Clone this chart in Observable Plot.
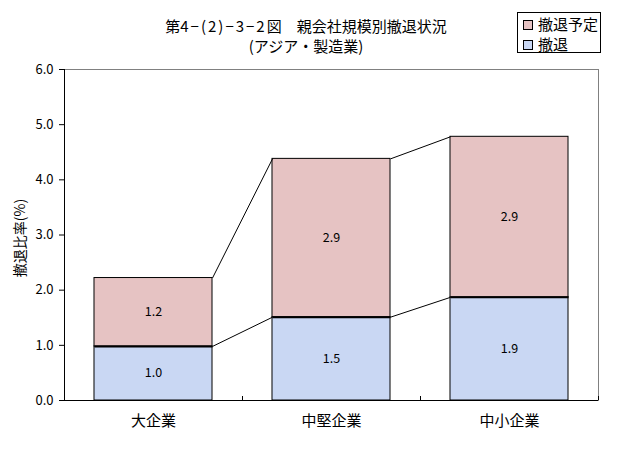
<!DOCTYPE html>
<html>
<head>
<meta charset="utf-8">
<script src="https://cdn.jsdelivr.net/npm/d3@7"></script>
<script src="https://cdn.jsdelivr.net/npm/@observablehq/plot@0.6"></script>
<style>
  body { margin: 0; background: #fff; font-family: "Noto Sans CJK JP", sans-serif; }
  #wrap { position: relative; width: 617px; }
  #head { position: relative; height: 60px; }
  #title { position: absolute; left: 0; top: 16px; width: 612px; text-align: center; font-size: 15px; line-height: 20px; color: #000; }
  #title .hw { letter-spacing: 2px; }
  #legend { position: absolute; left: 517px; top: 12px; width: 82px; height: 39px; border: 1px solid #000; font-size: 15px; }
  .li { position: absolute; left: 5px; height: 16px; line-height: 16px; white-space: nowrap; }
  .sw { display: inline-block; width: 8px; height: 8px; border: 1px solid #000; vertical-align: middle; margin-right: 5px; position: relative; top: -1px; }
</style>
</head>
<body>
<div id="wrap">
  <div id="head">
    <div id="title"></div>
    <div id="legend"></div>
  </div>
  <div id="chart"></div>
</div>
<script>
const titleParts = ["第", "4−(2)−3−2", "図　親会社規模別撤退状況"];
const subtitle = "(アジア・製造業)";
const categories = ["大企業", "中堅企業", "中小企業"];
const withdrawn = [0.98, 1.51, 1.87];   // 撤退
const planned = [1.24, 2.87, 2.91];     // 撤退予定
const seriesNames = ["撤退予定", "撤退"];
const seriesColors = ["#e6c3c3", "#c9d7f3"];
const yTicks = [0, 1, 2, 3, 4, 5, 6];
const yLabel = "撤退比率(%)";

document.getElementById("title").innerHTML =
  `${titleParts[0]}<span class="hw">${titleParts[1]}</span>${titleParts[2]}<br>${subtitle}`;
const leg = document.getElementById("legend");
seriesNames.forEach((s, k) => {
  const d = document.createElement("div");
  d.className = "li";
  d.style.top = (3 + k * 20) + "px";
  d.innerHTML = `<span class="sw" style="background:${seriesColors[k]}"></span>${s}`;
  leg.appendChild(d);
});

const hw = 0.3315; // half bar width in category units
const rows = [];
categories.forEach((c, i) => {
  rows.push({i, series: "撤退", y1: 0, y2: withdrawn[i], v: withdrawn[i]});
  rows.push({i, series: "撤退予定", y1: withdrawn[i], y2: withdrawn[i] + planned[i], v: planned[i]});
});
const links = [];
for (let i = 0; i < categories.length - 1; i++) {
  links.push({x1: i + hw, x2: i + 1 - hw, y1: withdrawn[i], y2: withdrawn[i + 1]});
  links.push({x1: i + hw, x2: i + 1 - hw, y1: withdrawn[i] + planned[i], y2: withdrawn[i + 1] + planned[i + 1]});
}
const bounds = categories.map((c, i) => i + 0.5);
const fmt = d3.format(".1f");

const chart = Plot.plot({
  width: 617,
  height: 401,
  marginTop: 9,
  marginBottom: 61,
  marginLeft: 64,
  marginRight: 19,
  style: {fontFamily: "'Noto Sans CJK JP', sans-serif", fontSize: "12px", background: "#fff", color: "#000"},
  x: {domain: [-0.5, categories.length - 0.5]},
  y: {domain: [0, 6]},
  color: {domain: seriesNames, range: seriesColors},
  marks: [
    Plot.frame({stroke: "#808080"}),
    Plot.rectY(rows, {x1: d => d.i - hw, x2: d => d.i + hw, y1: "y1", y2: "y2", fill: "series", stroke: "#000", strokeWidth: 1}),
    Plot.link(categories.map((c, i) => i), {x1: i => i - hw, x2: i => i + hw, y1: i => withdrawn[i], y2: i => withdrawn[i], stroke: "#000", strokeWidth: 2}),
    Plot.link(links, {x1: "x1", x2: "x2", y1: "y1", y2: "y2", stroke: "#000", strokeWidth: 1}),
    Plot.text(rows, {x: "i", y: d => (d.y1 + d.y2) / 2, text: d => fmt(d.v), fontSize: 12.5, fill: "#000"}),
    Plot.ruleX([-0.5], {stroke: "#000"}),
    Plot.ruleY([0], {stroke: "#000"}),
    Plot.ruleX(bounds, {y1: 0, y2: 0, insetTop: -4, stroke: "#000"}),
    Plot.axisY(yTicks, {tickFormat: fmt, tickSize: 5, tickPadding: 6, label: null, fontSize: 13}),
    Plot.axisX(categories.map((c, i) => i), {tickFormat: i => categories[i], tickSize: 0, tickPadding: 15, label: null, fontSize: 15}),
    Plot.text([yLabel], {frameAnchor: "left", rotate: -90, dx: -44, dy: 3, textAnchor: "middle", fontSize: 14, fill: "#000"})
  ]
});
document.getElementById("chart").appendChild(chart);
</script>
</body>
</html>
